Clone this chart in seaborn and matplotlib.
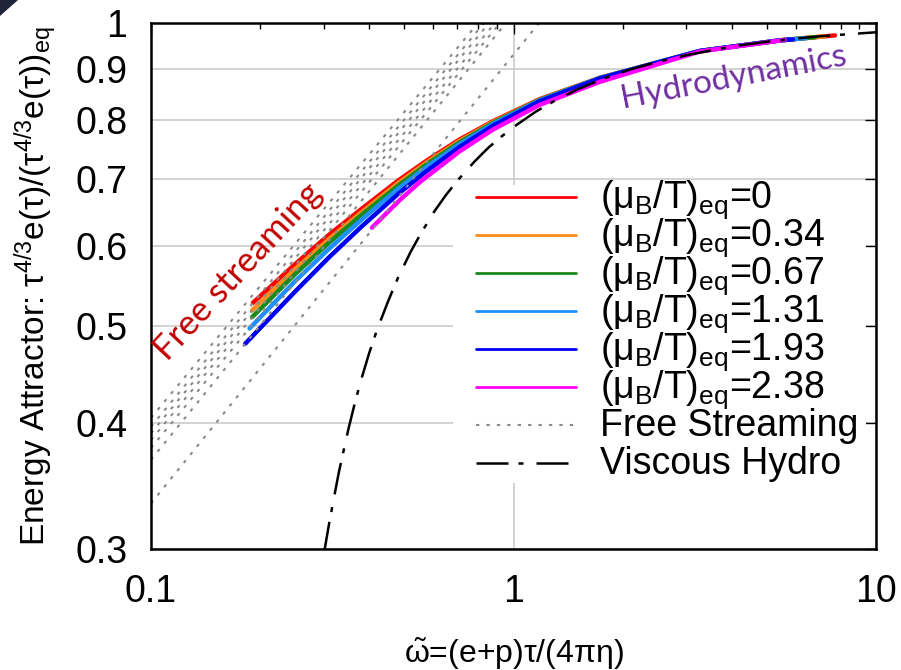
import matplotlib
matplotlib.use("Agg")
import numpy as np
import pandas as pd
import matplotlib.pyplot as plt
from matplotlib.lines import Line2D
from matplotlib.patches import Rectangle, Polygon
from matplotlib.ticker import FixedLocator, NullLocator, NullFormatter, LogLocator
import seaborn as sns

# ---- attractor curves, one per initial (mu_B/T)_eq ----
mu_values = ["0", "0.34", "0.67", "1.31", "1.93", "2.38"]
mu_colors = ["#ff0000", "#ff8c1a", "#1a8a1a", "#1e90ff", "#0000f0", "#ff00ff"]

w_mu0 = [0.191, 0.25, 0.31, 0.38, 0.48, 0.58, 0.71, 0.88, 1.18, 1.73, 3.27, 5.43, 7.7]
e_mu0 = [0.527, 0.576, 0.616, 0.653, 0.697, 0.731, 0.766, 0.799, 0.840, 0.882, 0.938, 0.961, 0.972]

w_mu034 = [0.190, 0.25, 0.31, 0.38, 0.48, 0.58, 0.71, 0.88, 1.18, 1.73, 3.27, 5.43, 7.2]
e_mu034 = [0.518, 0.5695, 0.610, 0.648, 0.693, 0.728, 0.7635, 0.7975, 0.839, 0.882, 0.938, 0.961, 0.970]

w_mu067 = [0.190, 0.25, 0.31, 0.38, 0.48, 0.58, 0.71, 0.88, 1.18, 1.73, 3.27, 5.43, 6.8]
e_mu067 = [0.510, 0.563, 0.605, 0.644, 0.689, 0.725, 0.761, 0.796, 0.8385, 0.8815, 0.938, 0.961, 0.968]

w_mu131 = [0.187, 0.25, 0.31, 0.38, 0.48, 0.58, 0.71, 0.88, 1.18, 1.73, 3.27, 5.43, 6.4]
e_mu131 = [0.497, 0.554, 0.5965, 0.637, 0.684, 0.7205, 0.758, 0.794, 0.8375, 0.8815, 0.938, 0.961, 0.966]

w_mu193 = [0.182, 0.25, 0.31, 0.38, 0.48, 0.58, 0.71, 0.88, 1.18, 1.73, 3.27, 5.43, 5.9]
e_mu193 = [0.480, 0.541, 0.585, 0.627, 0.676, 0.714, 0.753, 0.791, 0.836, 0.881, 0.938, 0.961, 0.963]

w_mu238 = [0.407, 0.486, 0.552, 0.712, 0.88, 1.18, 1.73, 3.27, 5.6]
e_mu238 = [0.626, 0.667, 0.695, 0.746, 0.784, 0.829, 0.874, 0.937, 0.962]

# ---- free-streaming lines: value at w=0.1 and the w where they reach 1 ----
fs_e_start = [0.405, 0.397, 0.391, 0.385, 0.378, 0.368, 0.333]
fs_w_end = [0.798, 0.829, 0.856, 0.889, 0.918, 0.953, 1.176]
fs_w_start = 0.1

# ---- first-order viscous hydrodynamics ----
w_hydro = [0.30, 0.31, 0.32, 0.33, 0.34, 0.35, 0.365, 0.38, 0.40, 0.42, 0.45,
           0.48, 0.52, 0.55, 0.60, 0.65, 0.70, 0.78, 0.85, 0.93, 1.02, 1.15,
           1.3, 1.5, 1.81, 2.1, 2.5, 3.0, 3.5, 4.2, 5.0, 6.0, 7.0, 8.5, 10.0]
e_hydro = [0.297, 0.318, 0.338, 0.358, 0.376, 0.394, 0.419, 0.442, 0.470, 0.495, 0.528,
           0.558, 0.592, 0.614, 0.647, 0.674, 0.697, 0.728, 0.751, 0.772, 0.792, 0.816,
           0.837, 0.859, 0.883, 0.899, 0.915, 0.929, 0.939, 0.950, 0.958, 0.965, 0.970, 0.975, 0.979]

y_ticks = [0.3, 0.4, 0.5, 0.6, 0.7, 0.8, 0.9, 1.0]
y_tick_labels = ["0.3", "0.4", "0.5", "0.6", "0.7", "0.8", "0.9", "1"]
x_ticks = [0.1, 1, 10]
x_tick_labels = ["0.1", "1", "10"]

# ---- tables for seaborn ----
curve_w = [w_mu0, w_mu034, w_mu067, w_mu131, w_mu193, w_mu238]
curve_e = [e_mu0, e_mu034, e_mu067, e_mu131, e_mu193, e_mu238]
attractor = pd.concat(
    [pd.DataFrame({"w": w, "e": e, "mu": m}) for w, e, m in zip(curve_w, curve_e, mu_values)],
    ignore_index=True)

free_stream = pd.concat(
    [pd.DataFrame({"w": [fs_w_start, w1], "e": [e0, 1.0], "line": i})
     for i, (e0, w1) in enumerate(zip(fs_e_start, fs_w_end))],
    ignore_index=True)

hydro = pd.DataFrame({"w": w_hydro, "e": e_hydro})

# ---- style ----
sns.set_theme(style="white")
plt.rcParams["font.family"] = ["Liberation Sans", "DejaVu Sans"]
plt.rcParams["mathtext.fontset"] = "custom"
plt.rcParams["mathtext.rm"] = "Liberation Sans"
plt.rcParams["mathtext.it"] = "Liberation Sans"
plt.rcParams["mathtext.bf"] = "Liberation Sans:bold"
plt.rcParams["mathtext.sf"] = "Liberation Sans"
for key in ["text.color", "axes.labelcolor", "xtick.color", "ytick.color",
            "xtick.labelcolor", "ytick.labelcolor"]:
    plt.rcParams[key] = "black"

FS = 27  # key / tick font size in points

fig = plt.figure(figsize=(9.01, 6.70), dpi=100)
ax = fig.add_axes([151 / 901, 121 / 670, 725 / 901, 526 / 670])

# small dark tab in the top-left corner of the canvas
fig.patches.append(Polygon([(0, 1), (18 / 901, 1), (0, 1 - 16 / 670)], closed=True,
                           transform=fig.transFigure, facecolor="#20243a",
                           edgecolor="none"))

sns.lineplot(data=attractor, x="w", y="e", hue="mu", hue_order=mu_values,
             palette=mu_colors, estimator=None, sort=False, legend=False,
             lw=3.2, ax=ax, zorder=2)

fs_style = (0, (1.6, 3.4))
sns.lineplot(data=free_stream, x="w", y="e", units="line", estimator=None,
             sort=False, color="#8a8a8a", lw=1.5, linestyle=fs_style,
             legend=False, ax=ax, zorder=2.2)

hydro_style = (0, (12.8, 4.0, 2.0, 5.2))
sns.lineplot(data=hydro, x="w", y="e", estimator=None, sort=False,
             color="black", lw=1.8, linestyle=hydro_style, legend=False,
             ax=ax, zorder=2.3)

ax.set_xscale("log")
ax.set_yscale("log")
ax.set_xlim(0.1, 10)
ax.set_ylim(0.3, 1.0)

ax.xaxis.set_major_locator(FixedLocator(x_ticks))
ax.set_xticklabels(x_tick_labels)
ax.xaxis.set_minor_locator(LogLocator(base=10, subs=np.arange(2, 10)))
ax.xaxis.set_minor_formatter(NullFormatter())
ax.yaxis.set_major_locator(FixedLocator(y_ticks))
ax.set_yticklabels(y_tick_labels)
ax.yaxis.set_minor_locator(NullLocator())

ax.tick_params(which="both", direction="in", top=True, right=True,
               color="black", width=1.0)
ax.tick_params(which="major", length=8, labelsize=FS)
ax.tick_params(which="minor", length=4.5)
ax.tick_params(axis="y", pad=17)
ax.tick_params(axis="x", pad=18)

ax.grid(True, which="major", color="#cccccc", lw=1.2)
ax.set_axisbelow(True)
for sp in ax.spines.values():
    sp.set_color("black")
    sp.set_linewidth(1.8)

ax.set_xlabel(r"$\tilde{\omega}$=(e+p)τ/(4πη)", fontsize=23)
ax.xaxis.set_label_coords(0.5, -0.163)
ax.set_ylabel(r"Energy Attractor: τ$^{4/3}$e(τ)/(τ$^{4/3}$e(τ))$_{eq}$", fontsize=24)
ax.yaxis.set_label_coords(-0.127, 0.5)

# opaque key area
ax.add_patch(Rectangle((0.4166, 0.1255), 0.5694, 0.5665, transform=ax.transAxes,
                       facecolor="white", edgecolor="none", zorder=1))

handles = [Line2D([], [], color=c, lw=2.0) for c in mu_colors]
handles.append(Line2D([], [], color="#8a8a8a", lw=1.5, linestyle=fs_style))
handles.append(Line2D([], [], color="black", lw=1.8, linestyle=hydro_style))
labels = [rf"($\mu_B$/T)$_{{eq}}$={m}" for m in mu_values] + ["Free Streaming", "Viscous Hydro"]

# tall key handles give every row the same height, so the rows sit at an even pitch
hh = 1.85
row_h_em = 0.65 * hh + 0.245          # handle box height in font-size units
row_pitch_px = 38.0
font_px = FS * 100 / 72
leg = ax.legend(handles, labels, loc="upper left", bbox_to_anchor=(0.4483, 0.7228),
                fontsize=FS, frameon=False, borderpad=0, borderaxespad=0,
                handlelength=2.67, handletextpad=0.64, handleheight=hh,
                labelspacing=row_pitch_px / font_px - row_h_em)
leg.set_zorder(5)
for line in leg.get_lines():
    line.set_ydata(np.full_like(np.asarray(line.get_xdata(), dtype=float), 0.3 * FS))

ax.text(0.1738, 0.5656, "Free streaming", color="#c00000", fontsize=25,
        family=["Lato", "DejaVu Sans"], rotation=47, rotation_mode="anchor",
        ha="center", va="center", zorder=4)
ax.text(4.06, 0.882, "Hydrodynamics", color="#7030a0", fontsize=24,
        family=["Lato", "DejaVu Sans"], rotation=11, rotation_mode="anchor",
        ha="center", va="center", zorder=4)

fig.savefig("out.png", dpi=100)
